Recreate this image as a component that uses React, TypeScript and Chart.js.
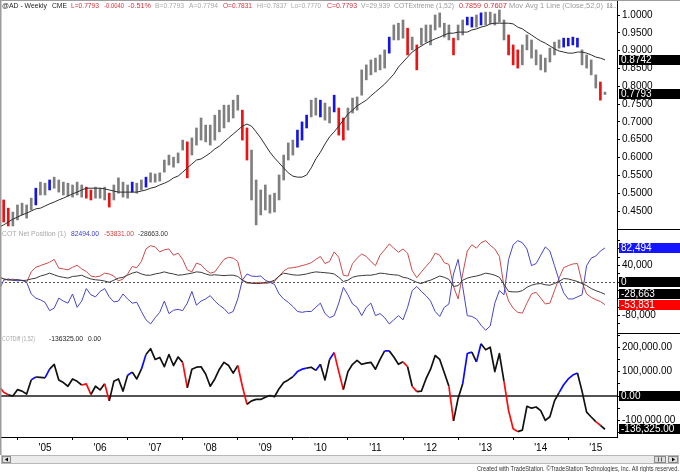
import { useEffect, useRef } from 'react';
import { Chart, registerables } from 'chart.js';

Chart.register(...registerables);

const FONT = "'Liberation Sans', Arial, sans-serif";

// Monthly samples, index 0 = Mar 2004 ... last = early 2015
const yearLabels = ["'05", "'06", "'07", "'08", "'09", "'10", "'11", "'12", "'13", "'14", "'15"];
const firstJanuaryIndex = 10;

const priceHigh = [
  0.489, 0.481, 0.458, 0.447, 0.467, 0.472, 0.467, 0.486, 0.514, 0.531,
  0.528, 0.537, 0.545, 0.537, 0.531, 0.528, 0.523, 0.531, 0.523, 0.517,
  0.509, 0.517, 0.514, 0.517, 0.500, 0.523, 0.543, 0.531, 0.523, 0.531,
  0.528, 0.537, 0.545, 0.557, 0.554, 0.557, 0.593, 0.607, 0.601, 0.613,
  0.649, 0.644, 0.655, 0.683, 0.711, 0.691, 0.691, 0.719, 0.733, 0.747,
  0.747, 0.761, 0.775, 0.733, 0.683, 0.621, 0.537, 0.509, 0.523, 0.495,
  0.500, 0.551, 0.607, 0.641, 0.649, 0.677, 0.700, 0.719, 0.761, 0.767,
  0.761, 0.753, 0.742, 0.775, 0.739, 0.711, 0.739, 0.767, 0.770, 0.846,
  0.860, 0.874, 0.879, 0.888, 0.902, 0.938, 0.972, 0.977, 0.986, 0.963,
  0.938, 0.916, 0.963, 0.972, 0.972, 1.000, 1.006, 0.977, 0.972, 0.935,
  0.972, 0.986, 0.994, 0.994, 1.000, 1.006, 1.008, 1.008, 1.003, 1.014,
  0.986, 0.944, 0.916, 0.902, 0.916, 0.944, 0.930, 0.902, 0.888, 0.879,
  0.907, 0.924, 0.930, 0.935, 0.935, 0.938, 0.935, 0.902, 0.888, 0.874,
  0.832, 0.812, 0.7837,
];

const priceLow = [
  0.453, 0.419, 0.408, 0.408, 0.425, 0.439, 0.430, 0.453, 0.467, 0.495,
  0.495, 0.509, 0.514, 0.503, 0.495, 0.492, 0.489, 0.495, 0.489, 0.486,
  0.481, 0.486, 0.486, 0.481, 0.461, 0.481, 0.500, 0.489, 0.486, 0.503,
  0.500, 0.509, 0.517, 0.531, 0.531, 0.534, 0.559, 0.579, 0.573, 0.585,
  0.621, 0.543, 0.607, 0.635, 0.649, 0.644, 0.635, 0.649, 0.672, 0.683,
  0.700, 0.711, 0.733, 0.649, 0.593, 0.481, 0.411, 0.439, 0.453, 0.444,
  0.447, 0.481, 0.537, 0.593, 0.607, 0.629, 0.649, 0.683, 0.714, 0.719,
  0.714, 0.705, 0.697, 0.728, 0.663, 0.649, 0.677, 0.725, 0.733, 0.775,
  0.818, 0.832, 0.840, 0.846, 0.851, 0.893, 0.930, 0.930, 0.935, 0.888,
  0.902, 0.846, 0.916, 0.924, 0.916, 0.958, 0.966, 0.938, 0.930, 0.888,
  0.930, 0.944, 0.972, 0.966, 0.966, 0.972, 0.972, 0.975, 0.972, 0.980,
  0.930, 0.888, 0.860, 0.851, 0.860, 0.902, 0.879, 0.860, 0.846, 0.840,
  0.868, 0.888, 0.907, 0.910, 0.913, 0.916, 0.910, 0.860, 0.851, 0.832,
  0.795, 0.761, 0.7770,
];

const movAvg52 = [
  0.405, 0.411, 0.419, 0.427, 0.433, 0.439, 0.444, 0.450, 0.456, 0.458,
  0.464, 0.470, 0.475, 0.481, 0.486, 0.492, 0.498, 0.503, 0.509, 0.514,
  0.514, 0.514, 0.514, 0.512, 0.509, 0.506, 0.503, 0.503, 0.503, 0.503,
  0.503, 0.506, 0.509, 0.514, 0.517, 0.523, 0.528, 0.534, 0.543, 0.548,
  0.559, 0.571, 0.582, 0.593, 0.596, 0.604, 0.613, 0.624, 0.632, 0.644,
  0.655, 0.666, 0.677, 0.688, 0.694, 0.688, 0.672, 0.655, 0.635, 0.615,
  0.599, 0.585, 0.571, 0.557, 0.548, 0.545, 0.545, 0.551, 0.571, 0.596,
  0.615, 0.638, 0.658, 0.672, 0.688, 0.705, 0.722, 0.733, 0.745, 0.753,
  0.761, 0.773, 0.784, 0.795, 0.806, 0.820, 0.834, 0.854, 0.868, 0.882,
  0.896, 0.905, 0.913, 0.921, 0.927, 0.933, 0.938, 0.944, 0.949, 0.949,
  0.952, 0.952, 0.952, 0.958, 0.961, 0.966, 0.969, 0.975, 0.977, 0.977,
  0.977, 0.977, 0.975, 0.966, 0.961, 0.952, 0.944, 0.935, 0.927, 0.921,
  0.913, 0.905, 0.899, 0.896, 0.893, 0.893, 0.896, 0.896, 0.893, 0.888,
  0.882, 0.879, 0.8742,
];

// COTExtreme state: 1 = extreme high (blue), -1 = extreme low (red)
const cotExtremeFlag = [
  0, -1, -1, 0, 0, 0, 0, 0, 1, 0,
  0, 1, 0, 0, 0, 0, 0, 0, 0, -1,
  -1, 0, 0, 0, -1, 0, 0, 0, 0, 1,
  0, 0, 1, 0, 0, 0, 0, 0, 0, 0,
  0, -1, 0, 0, 0, 0, 0, 0, 0, 0,
  0, 0, 0, -1, -1, 0, 0, 0, 0, 0,
  0, 0, 0, 0, 0, 1, 1, 1, 0, 0,
  1, 0, 0, 1, -1, -1, 0, 0, 0, 0,
  0, 0, 0, 0, 0, 1, 0, 0, 0, -1,
  0, -1, 0, 0, 0, 0, 0, 0, 0, -1,
  0, 0, 1, 1, 0, 1, 0, 0, 0, 0,
  0, -1, -1, -1, 0, 0, 0, 0, 0, 0,
  0, 0, 0, 1, 1, 1, 1, 0, 0, 0,
  0, -1, 0,
];

// COT net positions, thousands of contracts
const cotRedK = [
  13, 8, 5, 8, 3, 5, 0, 25, 36, 40,
  44, 48, 55, 34, 32, 30, 36, 41, 32, 26,
  15, 13, 15, 22, 20, 15, 3, 8, 20, 38,
  35, 50, 80, 88, 85, 73, 78, 80, 65, 70,
  55, 30, 25, 46, 42, 30, 22, 25, 40, 55,
  60, 58, 50, 5, -2, -2, -1, 0, -3, -1,
  2, 15, 27, 34, 35, 37, 40, 43, 47, 55,
  62, 45, 50, 73, 60, 17, 15, 45, 58, 68,
  62, 50, 40, 65, 78, 92, 82, 72, 80, 70,
  28, 11, 25, 38, 50, 70, 65, 47, 43, -10,
  -40, 20, 75, 90, 82, 95, 100, 89, 80, 62,
  -10, -45, -62, -72, -74, -50, -28, -24, -38, -52,
  -50, -20, 10, 35, 40, 44, 45, 0, -28, -36,
  -42, -46, -53.831,
];

const cotBlueK = [
  -19, 5, 8, 5, 4, 5, 0, -28, -38, -42,
  -48, -68, -62, -38, -45, -50, -28, -60, -45, -15,
  -30, -35, -22, -15, -35, -47, -45, -28, -40, -50,
  -48, -70, -90, -100, -85, -72, -45, -75, -67, -65,
  -68, -50, -22, -55, -45, -40, -32, -45, -55, -63,
  -75, -70, -40, 5, 20, 15, 14, 15, 5, 0,
  -5, -28, -40, -48, -58, -70, -72, -70, -70, -60,
  -50, -75, -85, -80, -50, -12, -30, -52, -60, -80,
  -60, -50, -80, -75, -85, -100, -90, -80, -90, -60,
  -20, -10, -22, -32, -45, -70, -82, -60, -52, 20,
  55, -10, -80, -82, -88, -103, -115, -105, -50, -20,
  -30, 55, 90, 100, 95, 80, 40, 45, 65, 85,
  75, 40, 5, -25, -40, -40, -35, -30, 40, 58,
  63, 75, 82.494,
];

const cotBlackK = [
  13, 8, 6, 5, 7, 4, 5, 8, 10, 15,
  18, 22, 18, 14, 12, 10, 14, 15, 17, 12,
  8, 6, 5, 3, 0, 5, 10, 12, 17, 22,
  25, 20, 17, 17, 20, 22, 25, 22, 20, 17,
  18, 20, 22, 25, 24, 20, 17, 18, 17, 16,
  17, 17, 14, 5, 0, -2, -3, -3, 0, 1,
  5, 15, 22, 20, 18, 17, 18, 20, 23, 25,
  24, 23, 22, 20, 12, 2, 5, 12, 15, 16,
  17, 17, 19, 22, 21, 19, 18, 17, 12, 10,
  5, 0, -3, 2, 5, 10, 15, 12, 7, -10,
  -8, 5, 10, 13, 15, 18, 22, 20, 17, 12,
  -5, -22, -23, -23, -20, -12, -7, -4, -3, -6,
  -7, -3, 2, 9, 8, 5, 2, -3, -8, -15,
  -20, -24, -28.663,
];

const cotDiffK = [
  39, 15, 5, 0, 26, 20, 8, 66, 78, 76,
  74, 110, 130, 66, 55, 40, 70, 60, 45, 50,
  6, 40, 25, 50, -20, 60, 70, 20, 85, 98,
  70, 110, 170, 194, 150, 158, 120, 170, 125, 160,
  138, 34, 110, 118, 120, 90, 40, 70, 110, 138,
  125, 94, 125, 40, -34, -20, -14, -14, -5, 2,
  -3, 30, 55, 66, 79, 100, 110, 114, 118, 105,
  130, 66, 150, 178, 100, 26, 100, 130, 146, 130,
  135, 138, 110, 150, 185, 185, 160, 130, 140, 120,
  40, 18, 20, 70, 110, 166, 150, 95, 40, -102,
  -10, 50, 174, 180, 140, 214, 190, 200, 100, 174,
  60, -60, -134, -146, -140, -42, -50, -45, -60, -100,
  -85, -20, 14, 46, 70, 86, 94, 20, -66, -86,
  -105, -120, -136.325,
];

const lastClose = 0.7793;

const priceTicks = [0.45, 0.5, 0.55, 0.6, 0.65, 0.7, 0.75, 0.8, 0.85, 0.9, 0.95, 1.0];
const cotTicks = [100000, 80000, 60000, 40000, 20000, 0, -20000, -40000, -60000, -80000, -100000];
const cotLabeledTicks = [40000, -80000];
const diffTicks = [250000, 200000, 150000, 100000, 50000, 0, -50000, -100000, -150000];
const diffLabeledTicks = [200000, 100000, -100000];

const headerTexts = [
  // panel, text, color, x-start, x-end
  [0, '@AD - Weekly', '#222222', 2, 47],
  [0, 'CME', '#222222', 52, 67],
  [0, 'L=0.7793', '#d9303c', 71, 99],
  [0, '-0.0040', '#d9303c', 104, 124],
  [0, '-0.51%', '#d9303c', 128, 151],
  [0, 'B=0.7793', '#a8a8a8', 155, 184],
  [0, 'A=0.7794', '#a8a8a8', 189, 218],
  [0, 'O=0.7831', '#d9303c', 223, 252],
  [0, 'Hi=0.7837', '#a8a8a8', 257, 287],
  [0, 'Lo=0.7770', '#a8a8a8', 291, 321],
  [0, 'C=0.7793', '#d9303c', 327, 357],
  [0, 'V=29,939', '#9a9a9a', 361, 390],
  [0, 'COTExtreme (1,52)', '#9a9a9a', 394, 454],
  [0, '0.7859', '#d9303c', 459, 481],
  [0, '0.7607', '#d9303c', 484, 507],
  [0, 'Mov Avg 1 Line (Close,52,0)', '#9a9a9a', 509, 603],
  [0, '0.8…', '#555555', 607, 616],
  [1, 'COT Net Position (1)', '#a8a8a8', 2, 66],
  [1, '82494.00', '#3a3ad0', 71, 99],
  [1, '-53831.00', '#d04040', 104, 134],
  [1, '-28663.00', '#333333', 138, 168],
  [2, 'COTDiff (1,52)', '#a8a8a8', 2, 35],
  [2, '-136325.00', '#222222', 49, 83],
  [2, '0.00', '#222222', 88, 101],
];

const fmtInt = (v: number) => Math.round(v).toLocaleString('en-US');
const fmt2 = (v: number) =>
  v.toLocaleString('en-US', { minimumFractionDigits: 2, maximumFractionDigits: 2 });

export default function App() {
  const ref = useRef<HTMLCanvasElement | null>(null);

  useEffect(() => {
    const canvas = ref.current;
    if (!canvas) return;
    const last = priceHigh.length - 1;
    const pts = (arr: number[], mul = 1) => arr.map((v, i) => ({ x: i, y: v * mul }));
    const flagColor = (f: number, base: string, blue: string, red: string) =>
      f > 0 ? blue : f < 0 ? red : base;

    const valueBoxes = [
      { axis: 'yPrice', value: movAvg52[last], text: movAvg52[last].toFixed(4), bg: '#000000' },
      { axis: 'yPrice', value: lastClose, text: lastClose.toFixed(4), bg: '#000000' },
      { axis: 'yCot', value: cotBlueK[last] * 1000, text: fmtInt(cotBlueK[last] * 1000), bg: '#1414ff' },
      { axis: 'yCot', value: 0, text: '0', bg: '#000000' },
      { axis: 'yCot', value: cotBlackK[last] * 1000, text: fmtInt(cotBlackK[last] * 1000), bg: '#000000' },
      { axis: 'yCot', value: cotRedK[last] * 1000, text: fmtInt(cotRedK[last] * 1000), bg: '#ff0000' },
      { axis: 'yDiff', value: 0, text: '0.00', bg: '#000000' },
      { axis: 'yDiff', value: cotDiffK[last] * 1000, text: fmt2(cotDiffK[last] * 1000), bg: '#000000' },
    ];

    const overlay = {
      id: 'tsOverlay',
      beforeDatasetsDraw(chart: any) {
        const { ctx, chartArea: a, scales } = chart;
        ctx.save();
        const yc = Math.round(scales.yCot.getPixelForValue(0)) + 0.5;
        ctx.strokeStyle = '#555555';
        ctx.lineWidth = 1;
        ctx.setLineDash([2, 2]);
        ctx.beginPath();
        ctx.moveTo(a.left, yc);
        ctx.lineTo(a.right, yc);
        ctx.stroke();
        ctx.setLineDash([]);
        const yd = scales.yDiff.getPixelForValue(0);
        ctx.strokeStyle = '#1a1a1a';
        ctx.lineWidth = 1.5;
        ctx.beginPath();
        ctx.moveTo(a.left, yd);
        ctx.lineTo(a.right, yd);
        ctx.stroke();
        ctx.restore();
      },
      afterDraw(chart: any) {
        const { ctx, chartArea: a, scales } = chart;
        const W = chart.width;
        ctx.save();
        // frame
        ctx.fillStyle = '#9c9c9c';
        ctx.fillRect(0, 0, W, 1);
        ctx.fillRect(0, 0, 1.5, 455);
        // pane separators in the axis area
        ctx.fillStyle = '#000000';
        [scales.yCot.top, scales.yDiff.top].forEach((y: number) => {
          ctx.fillRect(a.right, Math.round(y), W - a.right, 1);
        });
        // value boxes on the axes
        ctx.font = `10px ${FONT}`;
        ctx.textBaseline = 'middle';
        ctx.textAlign = 'left';
        valueBoxes.forEach((b) => {
          const y = scales[b.axis].getPixelForValue(b.value);
          const top = Math.round(y - 5);
          ctx.fillStyle = b.bg;
          ctx.fillRect(a.right + 2, top, W - a.right - 2, 10);
          ctx.fillStyle = '#ffffff';
          ctx.fillText(b.text, a.right + 4, top + 5.5);
        });
        // pane headers
        const paneTop = [a.top + 5, scales.yCot.top + 5, scales.yDiff.top + 6];
        ctx.font = `7.5px ${FONT}`;
        headerTexts.forEach((h: any) => {
          ctx.fillStyle = h[2];
          ctx.fillText(h[1], h[3], paneTop[h[0]], h[4] - h[3]);
        });
        // scroll bar
        const sy = 455;
        ctx.fillStyle = '#ebebeb';
        ctx.fillRect(1, sy, W - 2, 9);
        ctx.strokeStyle = '#b8b8b8';
        ctx.lineWidth = 1;
        ctx.strokeRect(1.5, sy + 0.5, W - 3, 8);
        ctx.fillStyle = '#dcdcdc';
        ctx.fillRect(2, sy + 1, 9, 7);
        ctx.strokeStyle = '#8a8a8a';
        ctx.strokeRect(2.5, sy + 1.5, 8, 6);
        ctx.fillStyle = '#000000';
        ctx.beginPath();
        ctx.moveTo(8, sy + 2.5);
        ctx.lineTo(5, sy + 4.5);
        ctx.lineTo(8, sy + 6.5);
        ctx.closePath();
        ctx.fill();
        ctx.fillStyle = '#dcdcdc';
        ctx.fillRect(654, sy + 1, 12, 7);
        ctx.strokeRect(654.5, sy + 1.5, 11, 6);
        ctx.fillStyle = '#555555';
        ctx.fillRect(658, sy + 2.5, 1, 4);
        ctx.fillRect(661, sy + 2.5, 1, 4);
        ctx.fillStyle = '#dcdcdc';
        ctx.fillRect(668, sy + 1, 10, 7);
        ctx.strokeRect(668.5, sy + 1.5, 9, 6);
        ctx.fillStyle = '#000000';
        ctx.beginPath();
        ctx.moveTo(672, sy + 2.5);
        ctx.lineTo(675, sy + 4.5);
        ctx.lineTo(672, sy + 6.5);
        ctx.closePath();
        ctx.fill();
        // footer
        ctx.font = `7px ${FONT}`;
        ctx.textAlign = 'right';
        ctx.textBaseline = 'alphabetic';
        ctx.fillStyle = '#333333';
        ctx.fillText(
          'Created with TradeStation. ©TradeStation Technologies, Inc. All rights reserved.',
          W - 1,
          471,
          202
        );
        ctx.restore();
      },
    };

    const yAxisCommon = {
      type: 'linear',
      position: 'right',
      stack: 'panes',
      grid: { display: true, drawOnChartArea: false, drawTicks: true, tickLength: 3, color: '#000000' },
      border: { display: true, color: '#000000', width: 1 },
      afterFit: (s: any) => {
        s.width = 63;
        s.paddingTop = 0;
        s.paddingBottom = 0;
      },
    };
    const tickFont = { family: FONT, size: 10 };

    const chart = new Chart(canvas, {
      type: 'bar',
      data: {
        datasets: [
          {
            type: 'line',
            label: 'Mov Avg 52',
            data: pts(movAvg52),
            yAxisID: 'yPrice',
            borderColor: '#2e2e2e',
            borderWidth: 1,
            pointRadius: 0,
            tension: 0,
            order: 1,
          },
          {
            type: 'bar',
            label: 'AD weekly',
            data: priceHigh.map((h, i) => ({ x: i, y: [priceLow[i], h] })),
            yAxisID: 'yPrice',
            backgroundColor: cotExtremeFlag.map((f) => flagColor(f, '#7f7f7f', '#1414e6', '#ee1111')),
            borderWidth: 0,
            barThickness: 2,
            grouped: false,
            order: 2,
          },
          {
            type: 'line',
            label: 'Small spec',
            data: pts(cotBlackK, 1000),
            yAxisID: 'yCot',
            borderColor: '#3a3a3a',
            borderWidth: 1,
            pointRadius: 0,
            order: 3,
          },
          {
            type: 'line',
            label: 'Large spec',
            data: pts(cotBlueK, 1000),
            yAxisID: 'yCot',
            borderColor: '#4646c8',
            borderWidth: 1,
            pointRadius: 0,
            order: 4,
          },
          {
            type: 'line',
            label: 'Commercials',
            data: pts(cotRedK, 1000),
            yAxisID: 'yCot',
            borderColor: '#cc4a4a',
            borderWidth: 1,
            pointRadius: 0,
            order: 5,
          },
          {
            type: 'line',
            label: 'COTDiff',
            data: pts(cotDiffK, 1000),
            yAxisID: 'yDiff',
            borderColor: '#111111',
            borderWidth: 1.7,
            pointRadius: 0,
            borderJoinStyle: 'round',
            segment: {
              borderColor: (c: any) =>
                flagColor(cotExtremeFlag[c.p1DataIndex], '#111111', '#0a0aff', '#ff0a0a'),
            },
            order: 0,
          },
        ],
      },
      options: {
        responsive: false,
        devicePixelRatio: 1,
        animation: false,
        events: [],
        layout: { autoPadding: false, padding: { left: 1, top: 1, right: 0, bottom: 20 } },
        plugins: { legend: { display: false }, tooltip: { enabled: false } },
        scales: {
          x: {
            type: 'linear',
            position: 'bottom',
            min: 0.414,
            max: 134.62,
            offset: false,
            grid: { display: true, drawOnChartArea: false, drawTicks: true, tickLength: 3, color: '#000000' },
            border: { display: true, color: '#000000' },
            ticks: {
              autoSkip: false,
              maxRotation: 0,
              padding: 2,
              color: '#000000',
              font: tickFont,
              callback: (_v: any, i: number) => yearLabels[i] ?? '',
            },
            afterBuildTicks: (s: any) => {
              s.ticks = yearLabels.map((_, k) => ({ value: firstJanuaryIndex + 12 * k }));
            },
            afterFit: (s: any) => {
              s.height = 15;
              s.paddingLeft = 0;
              s.paddingRight = 0;
            },
          },
          yPrice: {
            ...yAxisCommon,
            stackWeight: 228,
            min: 0.39949,
            max: 1.03929,
            ticks: {
              autoSkip: false,
              padding: 2,
              color: '#000000',
              font: tickFont,
              callback: (v: any) => Number(v).toFixed(4),
            },
            afterBuildTicks: (s: any) => {
              s.ticks = priceTicks.map((v) => ({ value: v }));
            },
          },
          yCot: {
            ...yAxisCommon,
            stackWeight: 104,
            min: -121680,
            max: 127920,
            ticks: {
              autoSkip: false,
              padding: 2,
              color: '#000000',
              font: tickFont,
              callback: (v: any) => (cotLabeledTicks.includes(Number(v)) ? fmtInt(Number(v)) : ''),
            },
            afterBuildTicks: (s: any) => {
              s.ticks = cotTicks.map((v) => ({ value: v }));
            },
          },
          yDiff: {
            ...yAxisCommon,
            stackWeight: 104,
            min: -168100,
            max: 258300,
            ticks: {
              autoSkip: false,
              padding: 2,
              color: '#000000',
              font: tickFont,
              callback: (v: any) => (diffLabeledTicks.includes(Number(v)) ? fmt2(Number(v)) : ''),
            },
            afterBuildTicks: (s: any) => {
              s.ticks = diffTicks.map((v) => ({ value: v }));
            },
          },
        },
      } as any,
      plugins: [overlay as any],
    } as any);

    return () => chart.destroy();
  }, []);

  return (
    <div style={{ position: 'fixed', left: 0, top: 0, width: 680, height: 472, background: '#ffffff' }}>
      <canvas ref={ref} width={680} height={472} style={{ display: 'block', width: 680, height: 472 }} />
    </div>
  );
}
